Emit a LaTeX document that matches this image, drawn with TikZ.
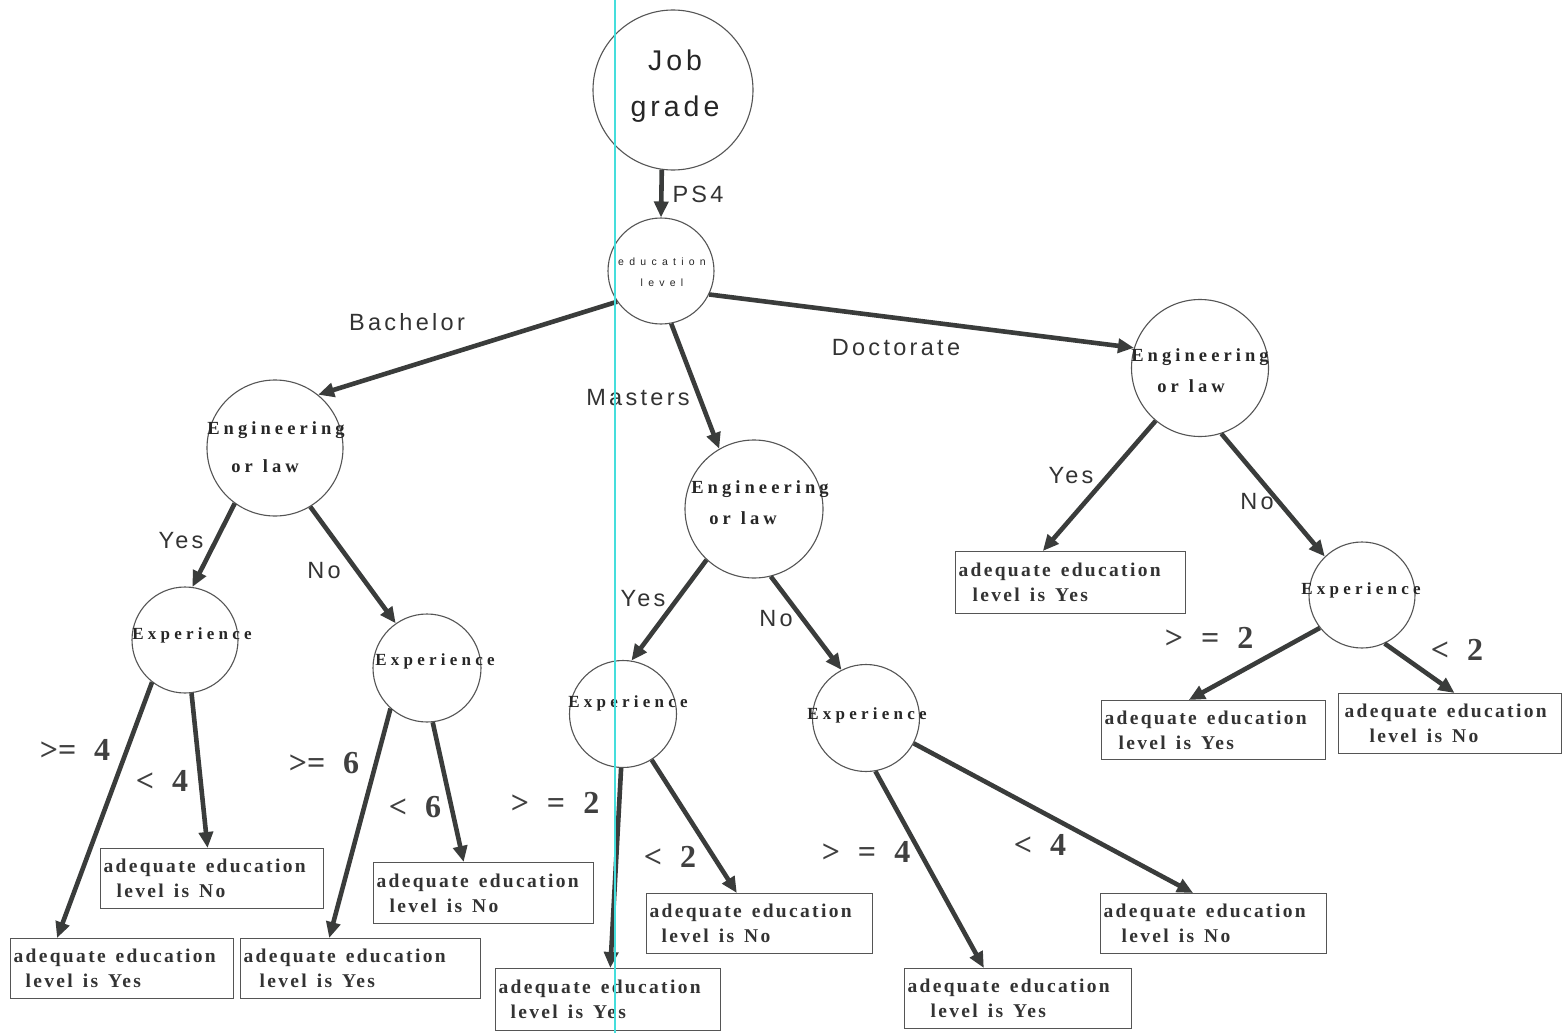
\documentclass[tikz,border=0pt]{standalone}
\usepackage{fontspec}
\setmainfont{Liberation Serif}
\newfontfamily\lsans[LetterSpace=14]{Liberation Sans}
\newfontfamily\tinysans[LetterSpace=50]{Liberation Sans}
\newfontfamily\spserif[LetterSpace=12]{Liberation Serif}
\newfontfamily\wideserif[LetterSpace=22]{Liberation Serif}
\newfontfamily\expserif[LetterSpace=25]{Liberation Serif}
\usetikzlibrary{arrows.meta,calc}

% word gaps for the letter-spaced faces
\newcommand\wgap{\hspace{10pt}}
\newcommand\cgap{\hspace{18pt}}

\definecolor{ink}{HTML}{3A3C3B}
\definecolor{rim}{HTML}{555555}
\definecolor{guide}{HTML}{45DEDC}

\tikzset{
  decision/.style={circle, draw=rim, line width=1.1pt, fill=white, inner sep=0pt},
  ctext/.style={align=left, inner sep=0pt, text=black!85,
    font=\wideserif\bfseries\fontsize{18.5}{31}\selectfont},
  xtext/.style={inner sep=0pt, text=black!85,
    font=\expserif\bfseries\fontsize{17}{17}\selectfont},
  leaf/.style={rectangle, draw=rim, line width=1.1pt, anchor=north west,
    minimum height=60pt, inner xsep=3pt, inner ysep=0pt, align=left,
    text=black!80, font=\spserif\bfseries\fontsize{19.5}{25}\selectfont},
  link/.style={draw=ink, line width=4.6pt, -{Triangle[length=16pt,width=14pt]}},
  branch/.style={inner sep=0pt, text=black!80, font=\lsans\fontsize{23.5}{23.5}\selectfont},
  cut/.style={inner sep=0pt, text=black!75, font=\bfseries\fontsize{32}{32}\selectfont}
}

\begin{document}
\begin{tikzpicture}[x=1pt, y=-1pt]
\fill[white] (0,0) rectangle (1566,1033);
\useasboundingbox (0,0) rectangle (1566,1033);

% decision nodes
\node[decision, minimum size=160pt] (job) at (673,90) {};
\node[inner sep=0pt, align=center, text=black!85,
  font=\lsans\fontsize{28.5}{46}\selectfont] (jobt) at (675,86) {Job\\grade};

\node[decision, minimum size=106pt] (edu) at (661,271) {};
\node[inner sep=0pt, align=center, text=black!85,
  font=\tinysans\fontsize{10.5}{21}\selectfont] (edut) at (662,272) {education\\level};

\node[decision, minimum size=136pt] (beol) at (275,448) {};
\node[ctext, font=\wideserif\bfseries\fontsize{18.5}{38}\selectfont] (beolt) at (276,447)
  {Engineering\\\hspace*{24pt}or\wgap law};
\node[decision, minimum size=138pt] (meol) at (754,509) {};
\node[ctext] (meolt) at (760,503) {Engineering\\\hspace*{18pt}or\wgap law};
\node[decision, minimum size=137pt] (deol) at (1200,368) {};
\node[ctext] (deolt) at (1200,371) {Engineering\\\hspace*{26pt}or\wgap law};

\node[decision, minimum size=106pt] (ebY) at (185,640) {};
\node[xtext] (ebYt) at (192,635) {Experience};
\node[decision, minimum size=108pt] (ebN) at (427,668) {};
\node[xtext] (ebNt) at (435,661) {Experience};
\node[decision, minimum size=107pt] (emY) at (623,714) {};
\node[xtext] (emYt) at (628,703) {Experience};
\node[decision, minimum size=107pt] (emN) at (866,718) {};
\node[xtext] (emNt) at (867,715) {Experience};
\node[decision, minimum size=106pt] (edN) at (1362,595) {};
\node[xtext] (edNt) at (1361,590) {Experience};

% outcome boxes
\node[leaf, text width=217pt] (l1) at (10,938) {adequate\wgap education\\\hspace*{12pt}level\wgap is\wgap Yes};
\node[leaf, text width=217pt] (l2) at (100,848) {adequate\wgap education\\\hspace*{13pt}level\wgap is\wgap No};
\node[leaf, text width=234pt] (l3) at (240,938) {adequate\wgap education\\\hspace*{16pt}level\wgap is\wgap Yes};
\node[leaf, text width=214pt, minimum height=61pt] (l4) at (373,862) {adequate\wgap education\\\hspace*{13pt}level\wgap is\wgap No};
\node[leaf, text width=219pt, minimum height=62pt] (l5) at (495,968) {adequate\wgap education\\\hspace*{12pt}level\wgap is\wgap Yes};
\node[leaf, text width=220pt] (l6) at (646,893) {adequate\wgap education\\\hspace*{12pt}level\wgap is\wgap No};
\node[leaf, text width=221pt] (l7) at (904,968) {adequate\wgap education\\\hspace*{23pt}level\wgap is\wgap Yes};
\node[leaf, text width=220pt] (l8) at (1100,893) {adequate\wgap education\\\hspace*{18pt}level\wgap is\wgap No};
\node[leaf, text width=224pt, minimum height=62pt] (l9) at (955,551) {adequate\wgap education\\\hspace*{14pt}level\wgap is\wgap Yes};
\node[leaf, text width=218pt, minimum height=59pt] (l10) at (1101,700) {adequate\wgap education\\\hspace*{14pt}level\wgap is\wgap Yes};
\node[leaf, text width=217pt] (l11) at (1338,693) {\hspace*{3pt}adequate\wgap education\\\hspace*{28pt}level\wgap is\wgap No};

% connectors
\draw[link] (job.262) -- (edu.90);
\draw[link] (edu.215) -- (beol.51);
\draw[link] (edu.281) -- (meol.120);
\draw[link] (edu.334) -- (deol.163);

\draw[link] (beol.234) -- (ebY.82);
\draw[link] (beol.301) -- (ebN.125);
\draw[link] (ebY.232) -- ($(l1.north west)!0.21!(l1.north east)$);
\draw[link] (ebY.277) -- ($(l2.north west)!0.48!(l2.north east)$);
\draw[link] (ebN.228) -- ($(l3.north west)!0.37!(l3.north east)$);
\draw[link] (ebN.276) -- ($(l4.north west)!0.41!(l4.north east)$);

\draw[link] (meol.227) -- (emY.81);
\draw[link] (meol.284) -- (emN.117);
\draw[link] (emY.268) -- ($(l5.north west)!0.51!(l5.north east)$);
\draw[link] (emY.302) -- ($(l6.north west)!0.40!(l6.north east)$);
\draw[link] (emN.280) -- ($(l7.north west)!0.35!(l7.north east)$);
\draw[link] (emN.332) -- ($(l8.north west)!0.41!(l8.north east)$);

\draw[link] (deol.230) -- ($(l9.north west)!0.38!(l9.north east)$);
\draw[link] (deol.288) -- (edN.134);
\draw[link] (edN.218) -- ($(l10.north west)!0.39!(l10.north east)$);
\draw[link] (edN.295) -- ($(l11.north west)!0.52!(l11.north east)$);

% branch labels
\node[branch] (bPS) at (698,194) {PS4};
\node[branch] (bBa) at (407,322) {Bachelor};
\node[branch] (bMa) at (638,398) {Masters};
\node[branch] (bDo) at (896,348) {Doctorate};
\node[branch] (bY1) at (181,541) {Yes};
\node[branch] (bN1) at (324,571) {No};
\node[branch] (bY2) at (643,599) {Yes};
\node[branch] (bN2) at (776,619) {No};
\node[branch] (bY3) at (1071,476) {Yes};
\node[branch] (bN3) at (1257,502) {No};

% threshold labels
\node[cut] (c1) at (75,750) {>=\cgap 4};
\node[cut] (c2) at (162,781) {<\cgap 4};
\node[cut] (c3) at (324,763) {>=\cgap 6};
\node[cut] (c4) at (415,807) {<\cgap 6};
\node[cut] (c5) at (555,803) {>\cgap =\cgap 2};
\node[cut] (c6) at (670,857) {<\cgap 2};
\node[cut] (c7) at (866,852) {>\cgap =\cgap 4};
\node[cut] (c8) at (1040,845) {<\cgap 4};
\node[cut] (c9) at (1209,638) {>\cgap =\cgap 2};
\node[cut] (c10) at (1457,650) {<\cgap 2};

% vertical guide
\draw[guide, line width=1.6pt] (615,0) -- (615,1033);
\end{tikzpicture}
\end{document}
